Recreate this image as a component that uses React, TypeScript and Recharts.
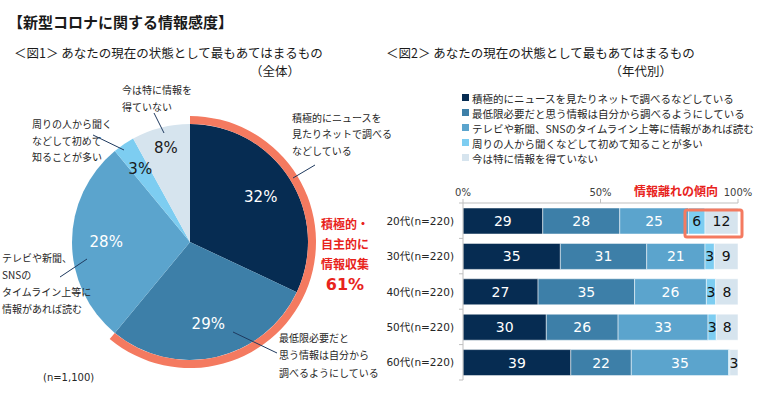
import React from 'react';
import { PieChart, Pie, Cell, BarChart, Bar, XAxis, YAxis, LabelList } from 'recharts';

const pieCategories = [
  '積極的にニュースを見たりネットで調べるなどしている',
  '最低限必要だと思う情報は自分から調べるようにしている',
  'テレビや新聞、SNSのタイムライン上等に情報があれば読む',
  '周りの人から聞くなどして初めて知ることが多い',
  '今は特に情報を得ていない',
];
const pieValues = [32, 29, 28, 3, 8];
const colors = ['#062c52', '#3d7fa8', '#5ba4cd', '#7dcdf1', '#d6e4ee'];

const ages = ['20代(n=220)', '30代(n=220)', '40代(n=220)', '50代(n=220)', '60代(n=220)'];
const activeVals = [29, 35.4, 27.3, 30.3, 39.2];
const minimalVals = [28, 31.4, 35.1, 26.1, 22];
const mediaVals = [25, 21.2, 26.1, 32.7, 35.4];
const othersVals = [6, 3.4, 3.4, 3, 0.4];
const noneVals = [12, 8.6, 8.1, 7.9, 3];
const axisTicks = [0, 50, 100];

const seriesKeys = ['active', 'minimal', 'media', 'others', 'none'];
const seriesVals = [activeVals, minimalVals, mediaVals, othersVals, noneVals];

const pieData = pieCategories.map((name, i) => ({ name, value: pieValues[i] }));
const ringData = [
  { name: '積極的・自主的に情報収集', value: pieValues[0] + pieValues[1] },
  { name: 'rest', value: pieValues[2] + pieValues[3] + pieValues[4] },
];
const barData = ages.map((age, i) => {
  const row: any = { age };
  seriesKeys.forEach((k, j) => (row[k] = seriesVals[j][i]));
  return row;
});

const FONT = "'DejaVu Sans', 'Noto Sans CJK JP', sans-serif";
const JP = "'Noto Sans CJK JP', sans-serif";
const ORANGE = '#f47a60';
const RED = '#e8231c';

const renderPieLabel = (p: any) => {
  const RAD = Math.PI / 180;
  const f = p.percent < 0.05 ? 0.75 : p.percent < 0.1 ? 0.82 : 0.71;
  const r = p.outerRadius * f;
  const x = p.cx + r * Math.cos(-p.midAngle * RAD);
  const y = p.cy + r * Math.sin(-p.midAngle * RAD);
  return (
    <text x={x} y={y} textAnchor="middle" dominantBaseline="central" fill={p.index >= 3 ? '#1a1a1a' : '#ffffff'} fontSize={15} fontFamily={FONT}>
      {p.value}%
    </text>
  );
};

const AgeTick = (props: any) => {
  const { x, y, payload, index } = props;
  const half = 17.7;
  return (
    <g>
      <text x={x - 9} y={y} textAnchor="end" dominantBaseline="central" fontSize={10.5} fill="#262626" fontFamily={FONT}>
        {payload.value}
      </text>
      {index === 0 && <line x1={x - 4} x2={x} y1={y - half} y2={y - half} stroke="#bfbfbf" />}
      <line x1={x - 4} x2={x} y1={y + half} y2={y + half} stroke="#bfbfbf" />
    </g>
  );
};

const fmt = (v: any) => (Number(v) < 1 ? '' : String(Math.round(Number(v))));

export default function App() {
  const T = (x: number, y: number, s: string, opt: any = {}) => (
    <text x={x} y={y} dominantBaseline="central" fontSize={opt.size || 10} fill={opt.fill || '#262626'} fontWeight={opt.bold ? 'bold' : 'normal'} textAnchor={opt.anchor || 'start'} fontFamily={opt.font || JP}>
      {s}
    </text>
  );
  return (
    <div style={{ position: 'absolute', left: 0, top: 0, width: 760, height: 397, background: '#fff', fontFamily: JP }}>
      <div style={{ position: 'absolute', left: 0, top: 0 }}>
        <PieChart width={380} height={397} margin={{ top: 0, right: 0, bottom: 0, left: 0 }}>
          <Pie data={pieData} dataKey="value" cx={190} cy={242} outerRadius={118} startAngle={90} endAngle={-270} stroke="none" label={renderPieLabel} labelLine={false} isAnimationActive={false}>
            {pieData.map((d, i) => (
              <Cell key={d.name} fill={colors[i]} />
            ))}
          </Pie>
          <Pie data={ringData} dataKey="value" cx={190} cy={242} innerRadius={118} outerRadius={126} startAngle={90} endAngle={-270} stroke="none" isAnimationActive={false}>
            <Cell fill={ORANGE} />
            <Cell fill="none" />
          </Pie>
        </PieChart>
      </div>
      <div style={{ position: 'absolute', left: 380, top: 0 }}>
        <BarChart width={380} height={397} data={barData} layout="vertical" margin={{ top: 183, right: 22, bottom: 17, left: 0 }} barSize={26}>
          <XAxis type="number" orientation="top" domain={[0, 100]} ticks={axisTicks} tickFormatter={(v: any) => `${v}%`} height={20} tickSize={4} tickMargin={3} stroke="#bfbfbf" tick={{ fontSize: 10, fill: '#404040', fontFamily: FONT }} />
          <YAxis type="category" dataKey="age" width={83} tickSize={0} tickMargin={0} tickLine={false} stroke="#bfbfbf" tick={<AgeTick />} />
          {seriesKeys.map((k, j) => (
            <Bar key={k} dataKey={k} stackId="a" fill={colors[j]} stroke="#ffffff" strokeWidth={0.5} isAnimationActive={false}>
              <LabelList dataKey={k} position="center" formatter={fmt} fill={j >= 3 ? '#111' : '#fff'} fontSize={14} fontFamily={FONT} />
            </Bar>
          ))}
        </BarChart>
      </div>
      <svg width={760} height={397} style={{ position: 'absolute', left: 0, top: 0, pointerEvents: 'none' }}>
        {T(8, 21, '【新型コロナに関する情報感度】', { size: 15, bold: true, fill: '#1a1a1a' })}
        {T(14, 52, '＜図1＞ あなたの現在の状態として最もあてはまるもの', { size: 12.5, fill: '#1a1a1a' })}
        {T(300, 70, '（全体）', { size: 12.5, fill: '#1a1a1a', anchor: 'end' })}
        {T(386, 52, '＜図2＞ あなたの現在の状態として最もあてはまるもの', { size: 12.5, fill: '#1a1a1a' })}
        {T(672, 70, '（年代別）', { size: 12.5, fill: '#1a1a1a', anchor: 'end' })}

        {/* pie callouts */}
        {T(122, 89, '今は特に情報を')}
        {T(122, 106, '得ていない')}
        <line x1={154} y1={113} x2={164} y2={133} stroke="#1f3a5f" />
        {T(32, 123, '周りの人から聞く')}
        {T(32, 140, 'などして初めて')}
        {T(32, 156, '知ることが多い')}
        <line x1={93} y1={135} x2={124} y2={150} stroke="#1f3a5f" />
        {T(292, 117, '積極的にニュースを')}
        {T(292, 133, '見たりネットで調べる')}
        {T(292, 150, 'などしている')}
        <line x1={315} y1={165} x2={293} y2={178} stroke="#1f3a5f" />
        {T(2, 257, 'テレビや新聞、')}
        {T(2, 274, 'SNSの')}
        {T(2, 291, 'タイムライン上等に')}
        {T(2, 308, '情報があれば読む')}
        <line x1={60} y1={277} x2={87} y2={259} stroke="#1f3a5f" />
        {T(279, 337, '最低限必要だと')}
        {T(279, 354, '思う情報は自分から')}
        {T(279, 372, '調べるようにしている')}
        <line x1={233} y1={332} x2={277} y2={353} stroke="#1f3a5f" />
        {T(43, 377, '(n=1,100)', { size: 10, font: FONT })}

        {T(345, 223, '積極的・', { size: 12, bold: true, fill: RED, anchor: 'middle' })}
        {T(345, 243, '自主的に', { size: 12, bold: true, fill: RED, anchor: 'middle' })}
        {T(345, 263, '情報収集', { size: 12, bold: true, fill: RED, anchor: 'middle' })}
        {T(345, 284, '61%', { size: 16, bold: true, fill: RED, anchor: 'middle', font: FONT })}

        {/* legend */}
        {pieCategories.map((c, i) => (
          <g key={c}>
            <rect x={462} y={94 + i * 15} width={7} height={7} fill={colors[i]} />
            {T(472, 98 + i * 15, c, { size: 10.5 })}
          </g>
        ))}

        {T(676, 190, '情報離れの傾向', { size: 12, bold: true, fill: RED, anchor: 'middle' })}
        <rect x={685} y={210} width={57} height={27} rx={2} fill="none" stroke={ORANGE} strokeWidth={3} />
      </svg>
    </div>
  );
}
